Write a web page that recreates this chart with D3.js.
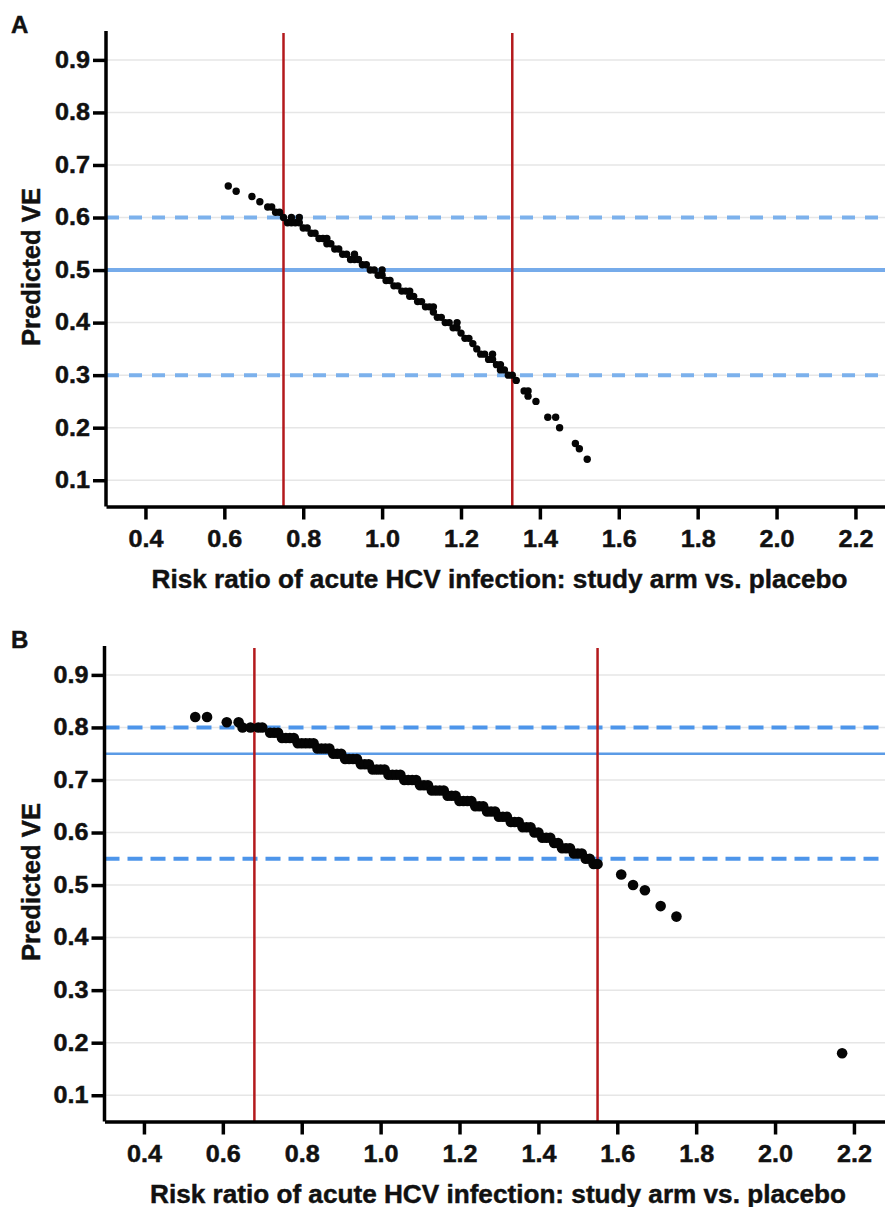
<!DOCTYPE html>
<html lang="en">
<head>
<meta charset="UTF-8" />
<title>Predicted VE vs risk ratio</title>
<script src="https://d3js.org/d3.v7.min.js"></script>
<style>
  body { margin: 0; background: #fff; }
  svg text { font-family: "Liberation Sans", Arial, sans-serif; font-weight: bold; fill: #111;
    stroke: #111; stroke-width: 0.45px; }
</style>
</head>
<body>
<svg id="chart" width="885" height="1207"></svg>
<script>
// ---- data ----
const xTicks = [0.4, 0.6, 0.8, 1.0, 1.2, 1.4, 1.6, 1.8, 2.0, 2.2];
const yTicks = [0.1, 0.2, 0.3, 0.4, 0.5, 0.6, 0.7, 0.8, 0.9];
const xTitle = "Risk ratio of acute HCV infection: study arm vs. placebo";
const yTitle = "Predicted VE";

// panel A
const rrA = [0.61,0.63,0.67,0.69,0.71,0.72,0.73,0.74,0.75,0.76,0.77,0.77,0.78,0.79,0.79,0.80,0.81,0.82,0.83,0.84,
  0.85,0.86,0.86,0.87,0.88,0.89,0.90,0.91,0.92,0.93,0.93,0.94,0.95,0.96,0.97,0.98,0.99,1.00,1.00,1.01,
  1.02,1.03,1.04,1.05,1.06,1.07,1.07,1.08,1.09,1.10,1.11,1.12,1.13,1.13,1.14,1.15,1.16,1.17,1.18,1.19,
  1.19,1.20,1.21,1.22,1.23,1.24,1.25,1.26,1.27,1.28,1.28,1.29,1.30,1.30,1.31,1.32,1.33,1.34,1.36,1.37,
  1.37,1.39,1.42,1.44,1.45,1.49,1.50,1.52];
const veA = [0.66,0.65,0.64,0.63,0.62,0.62,0.61,0.61,0.60,0.59,0.60,0.59,0.59,0.59,0.60,0.58,0.58,0.57,0.57,0.56,
  0.56,0.55,0.56,0.55,0.54,0.54,0.53,0.53,0.52,0.52,0.53,0.52,0.51,0.51,0.50,0.50,0.49,0.49,0.50,0.48,
  0.48,0.47,0.47,0.46,0.46,0.45,0.46,0.45,0.44,0.44,0.43,0.43,0.42,0.43,0.41,0.41,0.40,0.40,0.39,0.39,
  0.40,0.38,0.37,0.37,0.36,0.35,0.34,0.34,0.33,0.33,0.34,0.32,0.32,0.31,0.31,0.30,0.30,0.29,0.27,0.26,
  0.27,0.25,0.22,0.22,0.20,0.17,0.16,0.14];
const cutsA = [0.75, 1.33];
const targetA = 0.5;
const boundsA = [0.6, 0.3];

// panel B
const rrB = [0.53,0.56,0.61,0.64,0.65,0.67,0.69,0.70,
  0.72,0.73,0.74,0.75,0.76,0.77,0.78,0.79,0.80,0.81,0.82,0.83,0.84,0.85,0.86,0.87,0.88,0.89,0.90,
  0.91,0.92,0.93,0.94,0.95,0.96,0.97,0.98,0.99,1.00,1.01,1.02,1.03,1.04,1.05,1.06,1.07,1.08,1.09,
  1.10,1.11,1.12,1.13,1.14,1.15,1.16,1.17,1.18,1.19,1.20,1.21,1.22,1.23,1.24,1.25,1.26,1.27,1.28,
  1.29,1.30,1.31,1.32,1.33,1.34,1.35,1.36,1.37,1.38,1.39,1.40,1.41,1.42,1.43,1.44,1.45,1.46,1.47,
  1.48,1.49,1.50,1.51,1.52,1.53,1.54,1.55,
  1.61,1.64,1.67,1.71,1.75,2.17];
const veB = [0.82,0.82,0.81,0.81,0.80,0.80,0.80,0.80,
  0.79,0.79,0.79,0.78,0.78,0.78,0.78,0.77,0.77,0.77,0.77,0.77,0.76,0.76,0.76,0.76,0.75,0.75,0.75,
  0.74,0.74,0.74,0.74,0.73,0.73,0.73,0.72,0.72,0.72,0.72,0.71,0.71,0.71,0.71,0.70,0.70,0.70,0.70,
  0.69,0.69,0.69,0.68,0.68,0.68,0.68,0.67,0.67,0.67,0.66,0.66,0.66,0.66,0.65,0.65,0.65,0.64,0.64,
  0.64,0.63,0.63,0.63,0.62,0.62,0.62,0.61,0.61,0.61,0.60,0.60,0.59,0.59,0.59,0.58,0.58,0.57,0.57,
  0.57,0.56,0.56,0.56,0.55,0.55,0.54,0.54,
  0.52,0.50,0.49,0.46,0.44,0.18];
const cutsB = [0.68, 1.55];
const targetB = 0.75;
const boundsB = [0.8, 0.55];

const panels = [
  { label: "A", rr: rrA, ve: veA, cuts: cutsA, target: targetA, bounds: boundsA,
    top: 31, bottom: 506.5, left: 106, r: 3.7,
    dash: { color: "#7cb1ec", width: 4, array: "13,10" },
    solid: { color: "#76abea", width: 4 } },
  { label: "B", rr: rrB, ve: veB, cuts: cutsB, target: targetB, bounds: boundsB,
    top: 646, bottom: 1121.5, left: 104.5, r: 5.3,
    dash: { color: "#4d95ea", width: 4, array: "15,8" },
    solid: { color: "#5b9be6", width: 2.5 } }
];

const W = 885;
const svg = d3.select("#chart");

panels.forEach(p => {
  const x = d3.scaleLinear().domain([0.3, 2.28]).range([p.left, p.left + 781]);
  const y = d3.scaleLinear().domain([0.05, 0.955]).range([p.bottom, p.top]);
  const g = svg.append("g");

  // grid
  g.append("g").selectAll("line").data(yTicks).join("line")
    .attr("x1", p.left).attr("x2", W)
    .attr("y1", d => y(d)).attr("y2", d => y(d))
    .attr("stroke", "#e6e6e6").attr("stroke-width", 1.5);

  // target VE lines
  g.append("g").selectAll("line").data(p.bounds).join("line")
    .attr("x1", p.left).attr("x2", W)
    .attr("y1", d => y(d)).attr("y2", d => y(d))
    .attr("stroke", p.dash.color).attr("stroke-width", p.dash.width)
    .attr("stroke-dasharray", p.dash.array);
  g.append("line")
    .attr("x1", p.left).attr("x2", W)
    .attr("y1", y(p.target)).attr("y2", y(p.target))
    .attr("stroke", p.solid.color).attr("stroke-width", p.solid.width);

  // risk ratio cut-offs
  g.append("g").selectAll("line").data(p.cuts).join("line")
    .attr("x1", d => x(d)).attr("x2", d => x(d))
    .attr("y1", p.top + 2).attr("y2", p.bottom)
    .attr("stroke", "#b3191c").attr("stroke-width", 2.5);

  // points
  g.append("g").selectAll("circle").data(d3.zip(p.rr, p.ve)).join("circle")
    .attr("cx", d => x(d[0])).attr("cy", d => y(d[1]))
    .attr("r", p.r).attr("fill", "#050505");

  // axes
  const yAxis = g.append("g")
    .attr("transform", `translate(${p.left},0)`)
    .call(d3.axisLeft(y).tickValues(yTicks).tickSize(13).tickSizeOuter(0)
      .tickPadding(3).tickFormat(d3.format(".1f")));
  const xAxis = g.append("g")
    .attr("transform", `translate(0,${p.bottom})`)
    .call(d3.axisBottom(x).tickValues(xTicks).tickSize(13).tickSizeOuter(0)
      .tickPadding(11).tickFormat(d3.format(".1f")));

  [yAxis, xAxis].forEach(a => {
    a.attr("font-size", null).attr("font-family", null);
    a.select(".domain").attr("stroke", "#000").attr("stroke-width", 3.5);
    a.selectAll(".tick line").attr("stroke", "#000").attr("stroke-width", 3.5);
    a.selectAll(".tick text").style("font-size", "23px").attr("fill", "#111")
      .attr("textLength", 35).attr("lengthAdjust", "spacingAndGlyphs");
  });
  yAxis.select(".domain").attr("d", `M0,${p.bottom}V${p.top}`);

  // titles
  g.append("text")
    .attr("x", p.left + 45.5).attr("y", p.bottom + 81)
    .style("font-size", "26px")
    .attr("textLength", 696).attr("lengthAdjust", "spacingAndGlyphs")
    .text(xTitle);
  g.append("text")
    .attr("transform", `translate(39.5,${p.top + 236}) rotate(-90)`)
    .attr("text-anchor", "middle")
    .style("font-size", "26px")
    .attr("textLength", 158).attr("lengthAdjust", "spacingAndGlyphs")
    .text(yTitle);
  g.append("text")
    .attr("x", 11).attr("y", p.top + 2)
    .style("font-size", "24px")
    .text(p.label);
});
</script>
</body>
</html>
